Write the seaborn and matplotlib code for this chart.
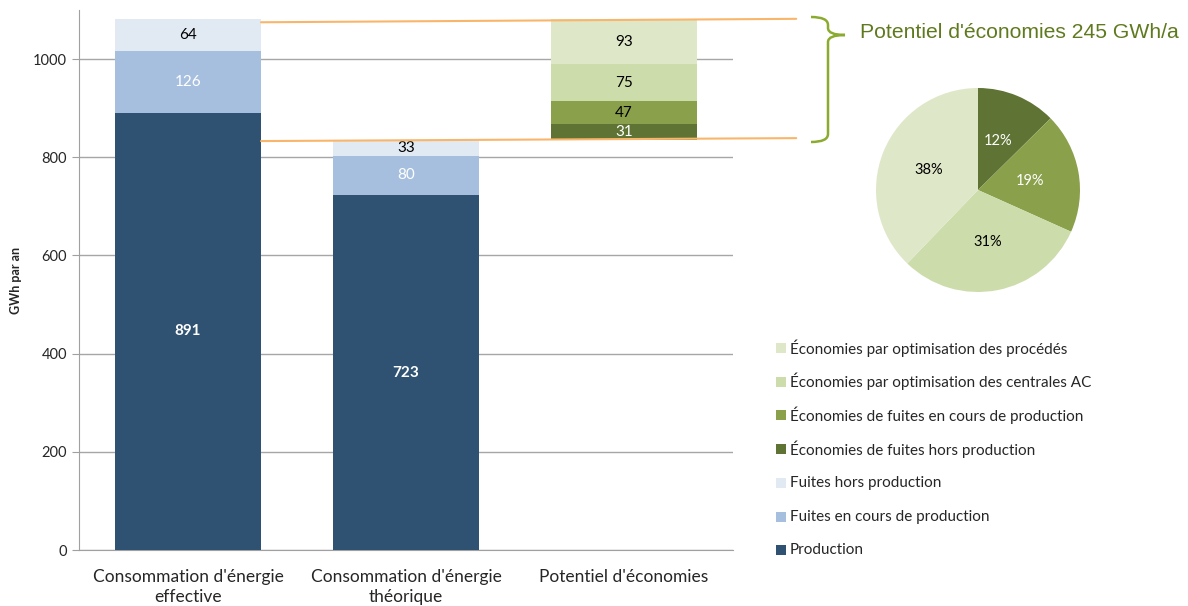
import numpy as np
import pandas as pd
import matplotlib
matplotlib.use("Agg")
import matplotlib.pyplot as plt
from matplotlib.path import Path
from matplotlib.patches import PathPatch, Rectangle
import seaborn as sns

# donnees
categories = ["Consommation d'énergie\neffective",
              "Consommation d'énergie\nthéorique",
              "Potentiel d'économies"]
production = [891, 723, 0]
fuites_cours = [126, 80, 0]
fuites_hors = [64, 33, 0]
eco_fuites_hors = [0, 0, 31]
eco_fuites_cours = [0, 0, 47]
eco_centrales = [0, 0, 75]
eco_procedes = [0, 0, 93]
pie_labels = ["12%", "19%", "31%", "38%"]

series_names = ["Production",
                "Fuites en cours de production",
                "Fuites hors production",
                "Économies de fuites hors production",
                "Économies de fuites en cours de production",
                "Économies par optimisation des centrales AC",
                "Économies par optimisation des procédés"]
series_vals = [production, fuites_cours, fuites_hors, eco_fuites_hors,
               eco_fuites_cours, eco_centrales, eco_procedes]
colors = ["#2f5272", "#a7bfdf", "#e1e9f3", "#5f7335", "#8aa04b", "#cddcab", "#dfe7c9"]
label_colors = ["white", "white", "black", "white", "black", "black", "black"]
pie_label_colors = ["white", "white", "black", "black"]

sns.set_style("white")
plt.rcParams['font.family'] = ['Lato', 'DejaVu Sans']

W, H = 1188, 606
fig = plt.figure(figsize=(11.88, 6.06), dpi=100)
ax = fig.add_axes([79 / W, 1 - 550 / H, 654 / W, 540 / H])

df = pd.DataFrame({"cat": categories})
for name, vals in zip(series_names, series_vals):
    df[name] = vals

# the savings bar starts on top of the theoretical consumption
base2 = sum(v[1] for v in series_vals[:3])
bottom = np.array([0, 0, base2], dtype=float)
for name, c, lc in zip(series_names, colors, label_colors):
    vals = df[name].values.astype(float)
    sns.barplot(data=df, x="cat", y=name, color=c, width=0.67, ax=ax,
                bottom=bottom.copy(), saturation=1, linewidth=0, zorder=3)
    for i, v in enumerate(vals):
        if v > 0:
            weight = "bold" if name == "Production" else "normal"
            ax.text(i, bottom[i] + v / 2, f"{int(v)}", ha="center", va="center",
                    color=lc, fontsize=11, fontweight=weight, zorder=5)
    bottom = bottom + vals

ax.set_xlim(-0.5, 2.5)
ax.set_ylim(0, 1100)
ax.set_yticks([0, 200, 400, 600, 800, 1000])
ax.yaxis.grid(True, color="#a6a6a6", linewidth=1)
ax.set_axisbelow(True)
ax.set_xlabel("")
ax.set_ylabel("GWh par an", fontsize=9, fontweight="bold", labelpad=8)
for s in ["top", "right"]:
    ax.spines[s].set_visible(False)
for s in ["left", "bottom"]:
    ax.spines[s].set_color("#a0a0a0")
ax.set_xticks([0, 1, 2])
ax.set_xticklabels(categories, fontsize=12.5, linespacing=1.3)
ax.set_xticks([-0.5, 0.5, 1.5, 2.5], minor=True)
ax.tick_params(axis="x", which="major", length=0, pad=14)
ax.tick_params(axis="x", which="minor", length=5, color="#a0a0a0", direction="out")
ax.tick_params(axis="y", length=5, color="#a0a0a0", direction="out", labelsize=10.5, left=True)

# orange connecting lines
top1 = sum(v[0] for v in series_vals[:3])
ax.plot([0.335, 2.79], [top1 - 6, top1 + 1], color="#f9b66a", lw=1.5, clip_on=False, zorder=6)
ax.plot([0.335, 2.79], [base2 - 3, base2 + 3], color="#f9b66a", lw=1.5, clip_on=False, zorder=6)

# brace
pts = [(811, 17), (828, 17), (828, 25), (828, 28), (828, 35), (845, 35),
       (828, 35), (828, 42), (828, 134), (828, 142), (811, 142)]
codes = [Path.MOVETO, Path.CURVE3, Path.CURVE3, Path.LINETO, Path.CURVE3, Path.CURVE3,
         Path.CURVE3, Path.CURVE3, Path.LINETO, Path.CURVE3, Path.CURVE3]
verts = [(x / W, 1 - y / H) for x, y in pts]
fig.patches.append(PathPatch(Path(verts, codes), fill=False, edgecolor="#8aab2e", lw=1.8,
                             transform=fig.transFigure))
fig.text(860 / W, 1 - 33 / H, "Potentiel d'économies 245 GWh/a",
         color="#5f7a1e", fontsize=15.2, family=["Liberation Sans", "DejaVu Sans"], va="center")

# pie
pax = fig.add_axes([876 / W, 1 - 292 / H, 204 / W, 204 / H])
pie_vals = [v[2] for v in series_vals[3:]]
wedges, texts = pax.pie(pie_vals, colors=colors[3:], startangle=90, counterclock=False,
                        wedgeprops=dict(linewidth=0))
for w, lab, c in zip(wedges, pie_labels, pie_label_colors):
    ang = np.deg2rad((w.theta1 + w.theta2) / 2)
    pax.text(0.52 * np.cos(ang), 0.52 * np.sin(ang), lab, ha="center", va="center",
             color=c, fontsize=10.5)
pax.set_xlim(-1, 1)
pax.set_ylim(-1, 1)
pax.set_aspect("equal")

# legend, drawn row by row so spacing stays regular
for k, (name, c) in enumerate(zip(series_names[::-1], colors[::-1])):
    yc = 348 + k * 33.7
    fig.patches.append(Rectangle((776 / W, 1 - (yc + 5) / H), 10 / W, 10 / H,
                                 facecolor=c, edgecolor="none", transform=fig.transFigure))
    fig.text(790 / W, 1 - yc / H, name, fontsize=11, va="center", ha="left")

fig.savefig("out.png", dpi=100)
